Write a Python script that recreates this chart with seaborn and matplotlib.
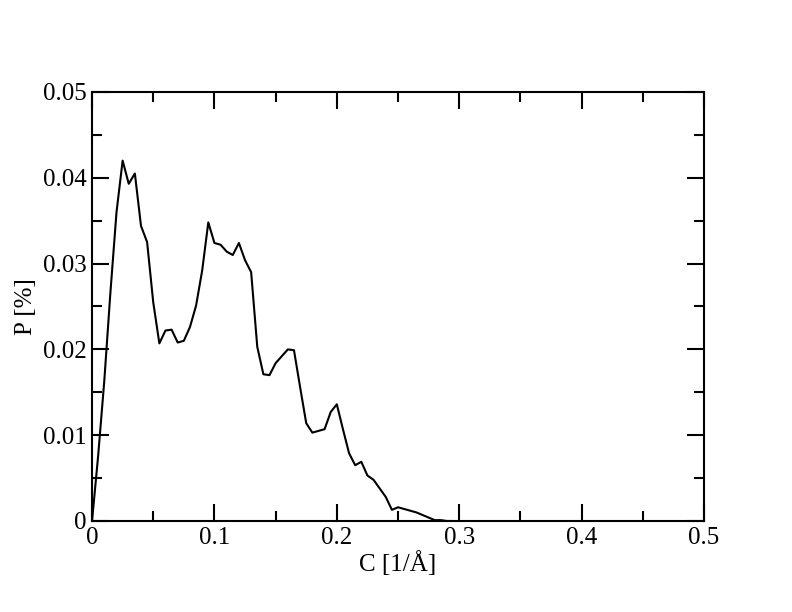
import matplotlib
matplotlib.use('Agg')
import matplotlib.pyplot as plt
import seaborn as sns
import pandas as pd
from matplotlib.ticker import MultipleLocator

sns.set_style('ticks')
plt.rcParams['font.family'] = ['Liberation Serif', 'DejaVu Serif']
plt.rcParams['text.color'] = 'black'
plt.rcParams['axes.labelcolor'] = 'black'
plt.rcParams['xtick.color'] = 'black'
plt.rcParams['ytick.color'] = 'black'
plt.rcParams['axes.edgecolor'] = 'black'

# curvatura C [1/Å] e probabilidade P [%]
c_vals = [0.0, 0.005, 0.01, 0.015, 0.02, 0.025, 0.03, 0.035, 0.04, 0.045,
          0.05, 0.055, 0.06, 0.065, 0.07, 0.075, 0.08, 0.085, 0.09, 0.095,
          0.1, 0.105, 0.11, 0.115, 0.12, 0.125, 0.13, 0.135, 0.14, 0.145,
          0.15, 0.155, 0.16, 0.165, 0.17, 0.175, 0.18, 0.185, 0.19, 0.195,
          0.2, 0.205, 0.21, 0.215, 0.22, 0.225, 0.23, 0.235, 0.24, 0.245,
          0.25, 0.255, 0.26, 0.265, 0.27, 0.275, 0.28, 0.285, 0.29, 0.295]
p_vals = [0.0, 0.0076, 0.0163, 0.0266, 0.036, 0.042, 0.0393, 0.0405, 0.0344, 0.0325,
          0.0255, 0.0207, 0.0222, 0.0223, 0.0208, 0.0210, 0.0226, 0.0251, 0.0292, 0.0348,
          0.0324, 0.0322, 0.0314, 0.0310, 0.0324, 0.0304, 0.0290, 0.0203, 0.0171, 0.0170,
          0.0184, 0.0192, 0.0200, 0.0199, 0.0156, 0.0114, 0.0103, 0.0105, 0.0107, 0.0127,
          0.0136, 0.0107, 0.0079, 0.0065, 0.0069, 0.0053, 0.0048, 0.0038, 0.0028, 0.0013,
          0.0016, 0.0014, 0.0012, 0.0010, 0.0007, 0.0004, 0.0001, 0.0001, 0.0, 0.0]

x_ticks = [0, 0.1, 0.2, 0.3, 0.4, 0.5]
x_labels = ['0', '0.1', '0.2', '0.3', '0.4', '0.5']
y_ticks = [0, 0.01, 0.02, 0.03, 0.04, 0.05]
y_labels = ['0', '0.01', '0.02', '0.03', '0.04', '0.05']

df = pd.DataFrame({'C': c_vals, 'P': p_vals})

fig = plt.figure(figsize=(7.92, 6.12), dpi=100)
ax = fig.add_axes([0.1162, 0.1487, 0.7727, 0.7010])
sns.lineplot(data=df, x='C', y='P', color='black', linewidth=1.5, ax=ax)

ax.set_xlim(0, 0.5)
ax.set_ylim(0, 0.05)
ax.set_xticks(x_ticks)
ax.set_xticklabels(x_labels)
ax.set_yticks(y_ticks)
ax.set_yticklabels(y_labels)
ax.xaxis.set_minor_locator(MultipleLocator(0.05))
ax.yaxis.set_minor_locator(MultipleLocator(0.005))
ax.tick_params(which='both', direction='in', top=True, right=True, width=1.5, labelsize=18, pad=4)
ax.tick_params(which='major', length=12)
ax.tick_params(which='minor', length=7)
for s in ax.spines.values():
    s.set_linewidth(1.5)
    s.set_visible(True)

ax.set_xlabel('C [1/Å]', fontsize=18, labelpad=2)
ax.set_ylabel('P [%]', fontsize=18, labelpad=4)

fig.savefig('out.png', dpi=100)
